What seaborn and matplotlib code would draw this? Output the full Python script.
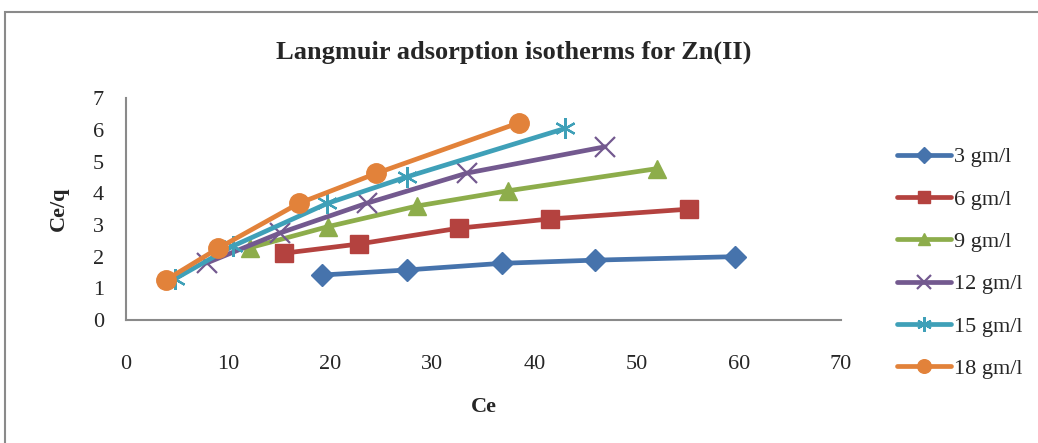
import matplotlib
matplotlib.use("Agg")
import matplotlib.pyplot as plt
import seaborn as sns
import pandas as pd
from matplotlib.patches import Rectangle

# ---- data ----
labels = ["3 gm/l", "6 gm/l", "9 gm/l", "12 gm/l", "15 gm/l", "18 gm/l"]
ce_3 = [19.2, 27.5, 36.8, 45.9, 59.6]
cq_3 = [1.42, 1.58, 1.79, 1.89, 2.00]
ce_6 = [15.5, 22.8, 32.6, 41.5, 55.1]
cq_6 = [2.11, 2.40, 2.90, 3.19, 3.50]
ce_9 = [12.1, 19.8, 28.5, 37.4, 52.0]
cq_9 = [2.28, 2.95, 3.60, 4.08, 4.78]
ce_12 = [7.9, 15.1, 23.6, 33.4, 46.9]
cq_12 = [1.80, 2.75, 3.69, 4.64, 5.47]
ce_15 = [4.8, 10.5, 19.7, 27.5, 43.0]
cq_15 = [1.30, 2.34, 3.68, 4.52, 6.05]
ce_18 = [3.9, 9.0, 16.9, 24.5, 38.5]
cq_18 = [1.26, 2.26, 3.68, 4.63, 6.23]
x_ticks = [0, 10, 20, 30, 40, 50, 60, 70]
y_ticks = [0, 1, 2, 3, 4, 5, 6, 7]

series_x = [ce_3, ce_6, ce_9, ce_12, ce_15, ce_18]
series_y = [cq_3, cq_6, cq_9, cq_12, cq_15, cq_18]

colors = ["#4673AC", "#B4423F", "#8DAD4B", "#73598F", "#3FA0B8", "#E2823A"]
markers = ["D", "s", "^", "x", (6, 2, 0), "o"]
msizes = [11, 13, 13, 14, 15, 14]
mews = [1, 1, 1, 1.6, 1.6, 1]

sns.set_theme(style="white")
plt.rcParams["font.family"] = ["Liberation Serif", "DejaVu Serif"]

fig = plt.figure(figsize=(10.38, 4.43), dpi=100)
ax = fig.add_axes([126/1038, 1-320/443, (841-126)/1038, (320-98.3)/443])

for lab, xs, ys, c, m, ms, mew in zip(labels, series_x, series_y, colors, markers, msizes, mews):
    df = pd.DataFrame({"Ce": xs, "Ce/q": ys})
    sns.lineplot(data=df, x="Ce", y="Ce/q", ax=ax, color=c, marker=m, markersize=ms,
                 markeredgecolor=c, markeredgewidth=mew, linewidth=3.4, label=lab,
                 sort=False)

ax.set_xlim(0, 70)
ax.set_ylim(0, 7)
ax.set_xticks(x_ticks)
ax.set_yticks(y_ticks)
ax.tick_params(axis="x", length=0, pad=25, labelsize=16)
ax.tick_params(axis="y", length=0, pad=16, labelsize=16)
for s in ["top", "right"]:
    ax.spines[s].set_visible(False)
for s in ["left", "bottom"]:
    ax.spines[s].set_color("#8a8a8a")
    ax.spines[s].set_linewidth(1.5)
ax.grid(False)

ax.set_xlabel("Ce", fontsize=16, fontweight="bold", labelpad=17)
ax.set_ylabel("Ce/q", fontsize=16, fontweight="bold", labelpad=17)

fig.text(514/1038, 1-52/443, "Langmuir adsorption isotherms for Zn(II)", ha="center", va="center",
         fontsize=19, fontweight="bold")

handles, labs = ax.get_legend_handles_labels()
if ax.legend_:
    ax.legend_.remove()
leg = fig.legend(handles, labs, loc="upper left", bbox_to_anchor=(888/1038, 1-138/443),
                 frameon=False, fontsize=16, handlelength=2.45, handletextpad=0.1,
                 labelspacing=0.98, borderaxespad=0, markerscale=0.7)

# outer chart border
fig.patches.append(Rectangle((5/1038, -0.1), 1.2, 1-12/443+0.1, transform=fig.transFigure,
                             fill=False, edgecolor="#8a8a8a", linewidth=1.5))

fig.savefig("out.png", dpi=100)
